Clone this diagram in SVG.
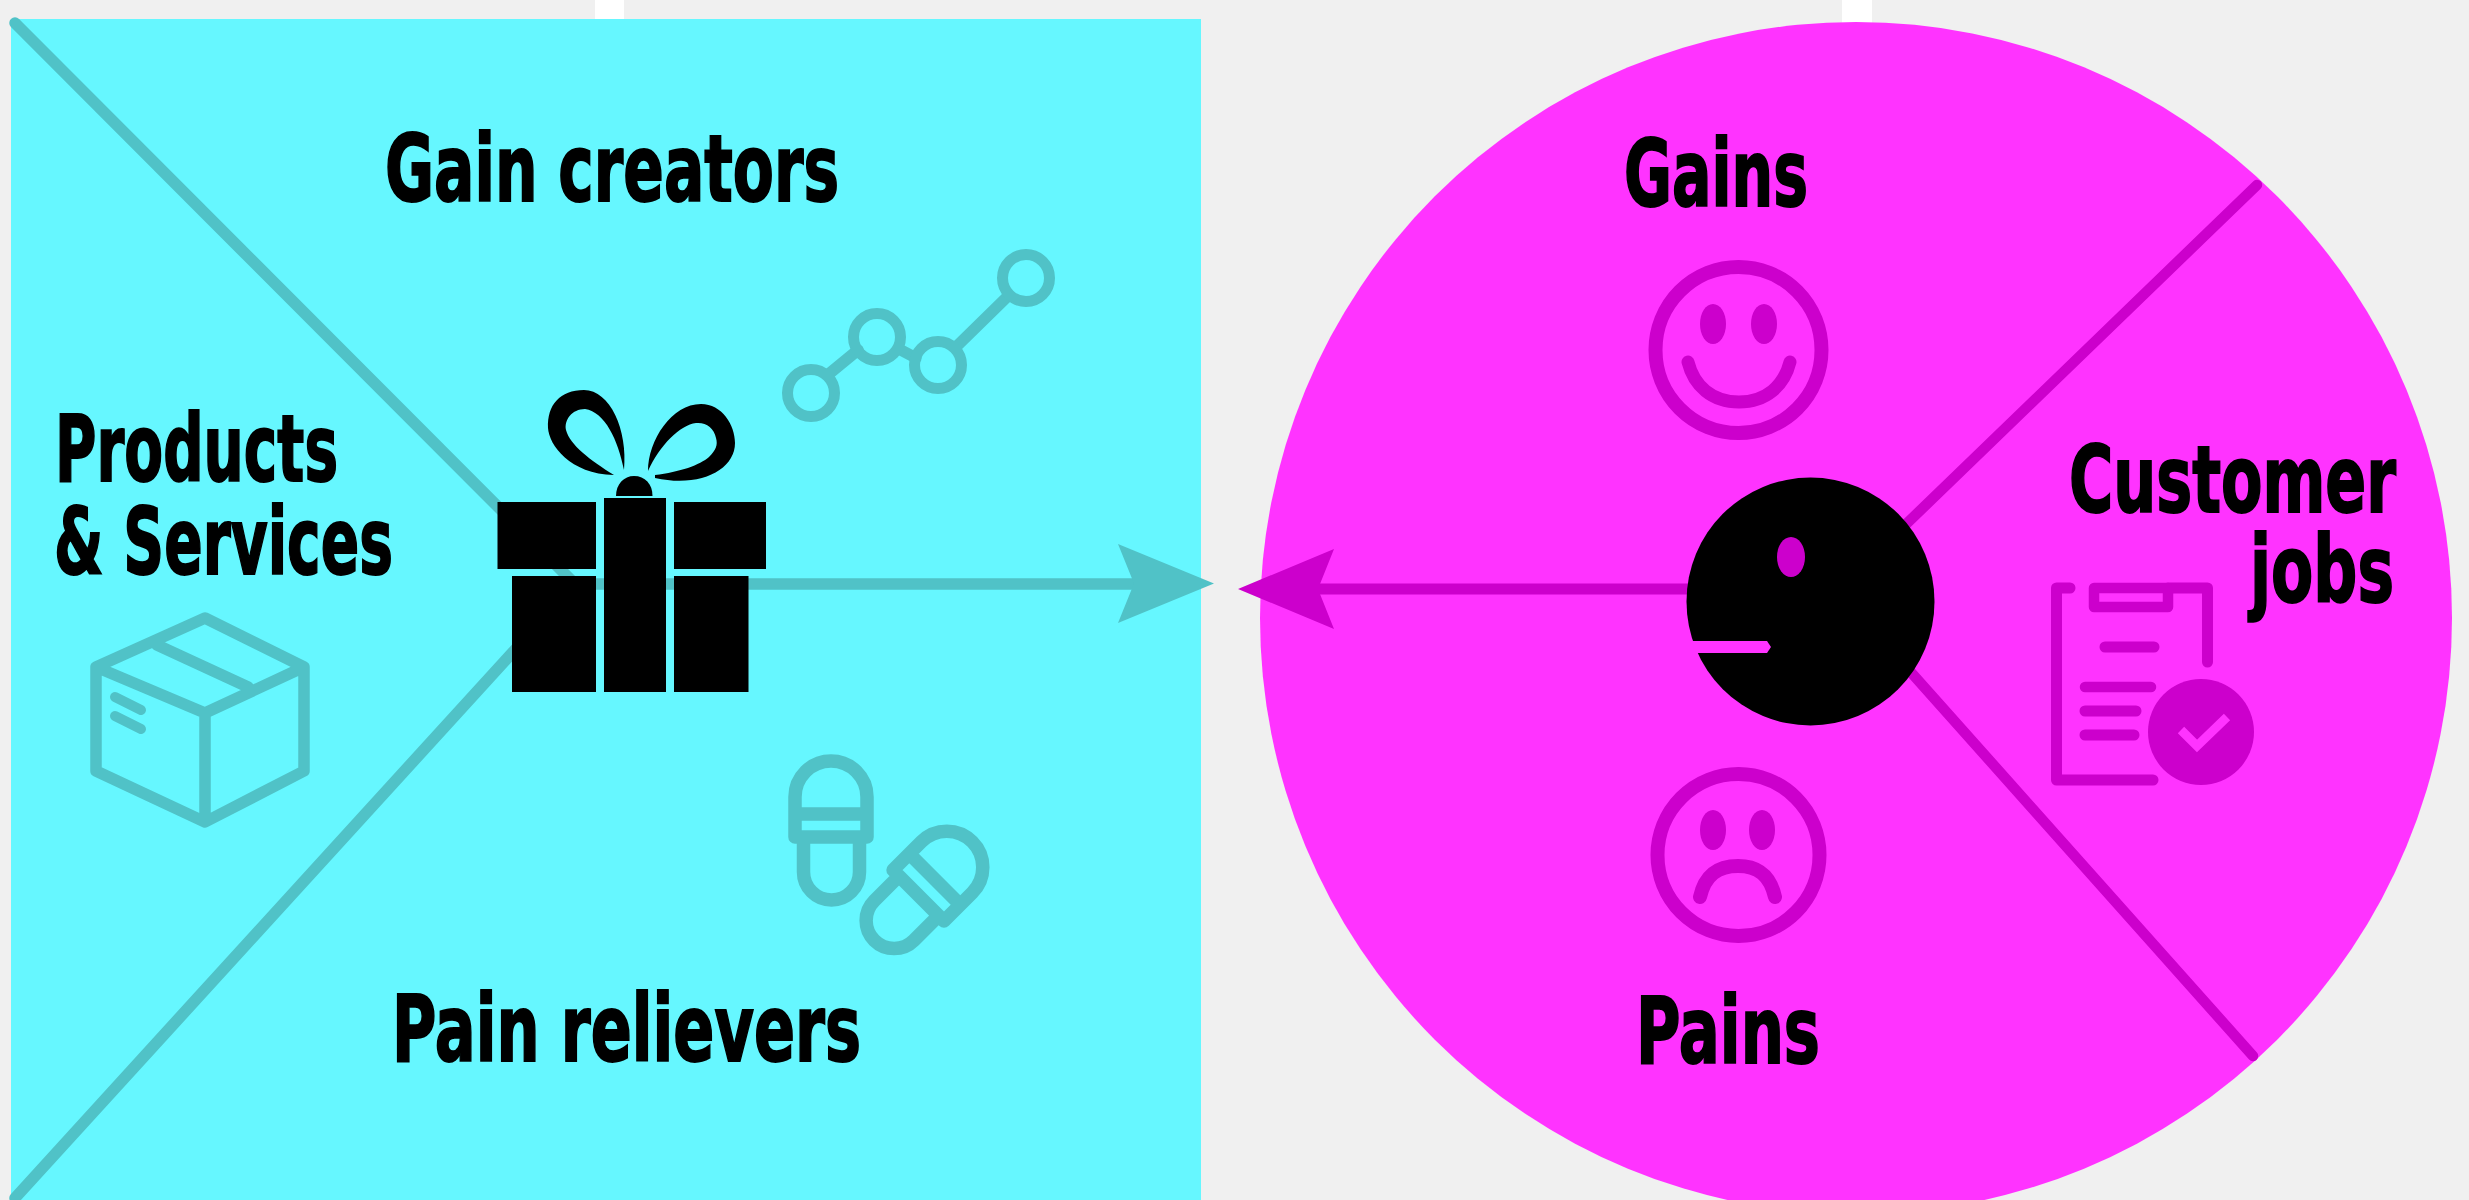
<svg xmlns="http://www.w3.org/2000/svg" width="2469" height="1200" viewBox="0 0 2469 1200">
<style>
.lbl{font-family:"DejaVu Sans","Liberation Sans",sans-serif;font-weight:700;font-size:93px;fill:#000;stroke:#000;stroke-width:2}
.t{fill:none;stroke:#50c2c7;stroke-width:11.5;stroke-linecap:round;stroke-linejoin:round}
.m{fill:none;stroke:#cc00cc;stroke-width:10.5;stroke-linecap:round;stroke-linejoin:round}
.tf{fill:#50c2c7}
.mf{fill:#cc00cc}
.k{fill:#000}
</style>
<rect width="2469" height="1200" fill="#f0f0f0"/>
<rect x="595" y="0" width="29" height="20" fill="#fff"/>
<rect x="1842" y="0" width="30" height="24" fill="#fff"/>
<g id="value-map"><rect x="11" y="19" width="1190" height="1181" fill="#66f7ff"/></g>
<g id="customer-profile"><circle cx="1856" cy="618" r="596" fill="#ff33ff"/></g>
<g id="connectors">
<path class="t" d="M15,23 L575,584 H1140"/>
<path class="t" d="M575,584 L15,1198"/>
<polygon class="tf" points="1214,583.500 1118,544 1134,583.500 1118,623"/>
<path class="m" d="M2257,185 L1900,530"/>
<path class="m" d="M1900,660 L2253,1056"/>
<path class="m" style="stroke-width:11" d="M1700,589 H1310"/>
<polygon class="mf" points="1238,589 1334,549 1318,589 1334,629"/>
</g>
<g id="products-services">
<path class="t" d="M205,618 L96,667 V771 L205,822 L304,771 V667 Z M96,667 L205,713 L304,667 M205,713 V822 M157,645 L248,687"/>
<path class="t" style="stroke-width:10" d="M115,697 L141,710 M115,716 L141,729"/>
<text class="lbl" transform="translate(55 481) scale(.62 1)" textLength="456.500" lengthAdjust="spacingAndGlyphs">Products</text>
<text class="lbl" transform="translate(54 574) scale(.62 1)" textLength="546.800" lengthAdjust="spacingAndGlyphs">&amp; Services</text>
</g>
<g id="gift">
<rect class="k" x="497.500" y="502" width="98.500" height="67"/>
<rect class="k" x="604" y="498" width="62" height="194"/>
<rect class="k" x="674" y="502" width="92" height="67"/>
<rect class="k" x="512" y="576" width="84" height="116"/>
<rect class="k" x="674" y="576" width="74.500" height="116"/>
<path class="k" d="M616,496 C616,484 624,476 634,476 C645,476 652.500,484 652.500,496 Z"/>
<path class="k" d="M624,470 C628,430 610,390 584,390 C560,390 547,405 548,428 C549,445 570,474 614,475 C590,460 570,445 566,430 C564,420 572,409 585,409 C605,412 618,440 624,470 Z"/>
<path class="k" d="M648,471 C648,440 672,404 701,404 C722,404 735,425 735,443 C735,470 700,488 655,478 L655,475 C680,472 700,465 709,457 C716,450 718,445 716,438 C714,428 706,422 696,423 C680,425 660,445 648,471 Z"/>
</g>
<g id="gain-creators">
<text class="lbl" transform="translate(385 201) scale(.62 1)" textLength="732.300" lengthAdjust="spacingAndGlyphs">Gain creators</text>
<path class="t" d="M830,373 L858,350 M899,349 L916,358 M958,345 L1006,298"/>
<g class="t" style="stroke-width:11"><circle cx="811" cy="393" r="23.500"/><circle cx="877" cy="337" r="23.500"/><circle cx="938" cy="365" r="23.500"/><circle cx="1026" cy="278" r="23.500"/></g>
</g>
<g id="pain-relievers">
<text class="lbl" transform="translate(392 1061) scale(.62 1)" textLength="756.500" lengthAdjust="spacingAndGlyphs">Pain relievers</text>
<g id="pill" class="t" style="stroke-width:13.500">
<path d="M795,837 V797 A36,36 0 0 1 867,797 V837 Z M795,814 H867 M803.500,837 V872 A28,28 0 0 0 859.500,872 V837"/>
<path transform="translate(96,62) rotate(45 831 825)" d="M795,837 V797 A36,36 0 0 1 867,797 V837 Z M795,814 H867 M803.500,837 V872 A28,28 0 0 0 859.500,872 V837"/>
</g>
</g>
<g id="gains">
<text class="lbl" transform="translate(1624 206) scale(.62 1)" textLength="296.800" lengthAdjust="spacingAndGlyphs">Gains</text>
<circle class="m" style="stroke-width:14" cx="1738.500" cy="350" r="83"/>
<ellipse class="mf" cx="1713" cy="324" rx="13" ry="20"/><ellipse class="mf" cx="1764" cy="324" rx="13" ry="20"/>
<path class="m" style="stroke-width:13" d="M1688,362 C1694,386 1712,402 1739,402 C1766,402 1784,386 1790,362"/>
</g>
<g id="pains">
<text class="lbl" transform="translate(1636 1063) scale(.62 1)" textLength="296.800" lengthAdjust="spacingAndGlyphs">Pains</text>
<circle class="m" style="stroke-width:14" cx="1738.500" cy="855" r="81"/>
<ellipse class="mf" cx="1713" cy="830" rx="13" ry="20"/><ellipse class="mf" cx="1762" cy="830" rx="13" ry="20"/>
<path class="m" style="stroke-width:14" d="M1700,897 C1705,875 1718,866 1738,866 C1758,866 1770,875 1775,897"/>
</g>
<g id="customer-jobs">
<text class="lbl" transform="translate(2069 512) scale(.62 1)" textLength="527.400" lengthAdjust="spacingAndGlyphs">Customer</text>
<text class="lbl" transform="translate(2250 602) scale(.62 1)" textLength="232.300" lengthAdjust="spacingAndGlyphs">jobs</text>
<path class="m" style="stroke-width:11" d="M2070,588 H2056.500 V780 H2153 M2168,588 H2207.500 V662 M2105,647 H2154 M2085,711 H2136 M2085,735 H2134"/>
<path class="m" d="M2085,687 H2151"/>
<rect class="m" x="2094" y="588" width="74" height="19"/>
<circle class="mf" cx="2201" cy="732" r="53"/>
<path class="m" style="stroke:#ff33ff;stroke-width:9;stroke-linecap:butt;stroke-linejoin:miter" d="M2181,730 L2197,746 L2227,717"/>
</g>
<g id="customer">
<circle class="k" cx="1810.500" cy="601.500" r="124"/>
<ellipse class="mf" cx="1791" cy="557" rx="14" ry="20"/>
<polygon fill="#ff33ff" points="1680,641 1767,641 1771,647 1767,653 1680,653"/>
</g>
</svg>
